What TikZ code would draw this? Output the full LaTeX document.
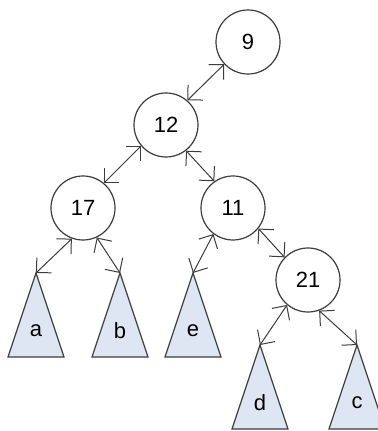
\documentclass[tikz,border=0pt]{standalone}
\usepackage{fontspec}
\setmainfont{Liberation Sans}
\usetikzlibrary
  {
    arrows.meta, % open barb heads
    calc,        % label positions below the apex
  }
\definecolor{subtreeblue}{RGB}{221,230,242}
\definecolor{outline}{RGB}{60,60,60}

\begin{document}
\begin{tikzpicture}
    [
      x=0.5pt,
      y=-0.5pt,
      key/.style=
        {
          circle,
          minimum size=32pt,
          inner sep=0pt,
          line width=0.6pt,
          draw=outline,
          font=\fontsize{11}{13}\selectfont,
        },
      subtree/.style=
        {
          line width=0.6pt,
          draw=outline,
          fill=subtreeblue,
        },
      leaf/.style=
        {
          inner sep=0pt,
          font=\fontsize{11}{13}\selectfont,
        },
      link/.style=
        {
          line width=0.5pt,
          draw=outline,
          {Straight Barb[length=5.3pt,width=10.6pt]}-{Straight Barb[length=5.3pt,width=10.6pt]},
        }
    ]
    \useasboundingbox (0,0) rectangle (377,431);

    \node (n9)  [key] at (248,42)  {9};
    \node (n12) [key] at (166,125) {12};
    \node (n17) [key] at (83,208)  {17};
    \node (n11) [key] at (233,208) {11};
    \node (n21) [key] at (308,280) {21};

    % subtrees hang from their apex
    \foreach \name/\x/\y in {a/36/273, b/120/273, e/193/273, d/260/345, c/357/345}
      {
        \coordinate (\name) at (\x,\y);
        \draw [subtree] (\name) -- ++(-28,84) -- ++(56,0) -- cycle;
        \node (\name-label) [leaf] at ($(\name)+(0,58)$) {\name};
      }

    \draw [link] (n9.-137)  -- (n12.49);
    \draw [link] (n12.-140) -- (n17.50);
    \draw [link] (n12.-52)  -- (n11.125);
    \draw [link] (n17.-110) -- (a);
    \draw [link] (n17.-65)  -- (b);
    \draw [link] (n11.-127) -- (e);
    \draw [link] (n11.-39)  -- (n21.136);
    \draw [link] (n21.-130) -- (d);
    \draw [link] (n21.-70)  -- (c);
  \end{tikzpicture}
\end{document}
